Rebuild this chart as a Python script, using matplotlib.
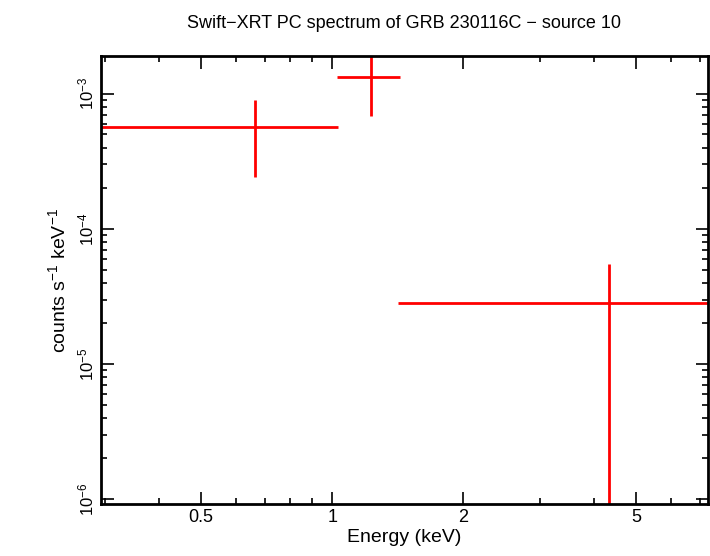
import matplotlib
matplotlib.use("Agg")
import matplotlib.pyplot as plt
from matplotlib.ticker import FixedLocator, FixedFormatter

plt.rcParams["font.family"] = "Liberation Sans"
plt.rcParams["mathtext.fontset"] = "custom"
plt.rcParams["mathtext.rm"] = "Liberation Sans"

# spectrum bins
energy = [0.665, 1.229, 4.33]
e_lo = [0.28, 1.027, 1.418]
e_hi = [1.032, 1.433, 8.0]
rate = [5.7e-4, 1.34e-3, 2.83e-5]
rate_lo = [2.43e-4, 6.87e-4, 1e-8]
rate_hi = [9.0e-4, 2.0e-3, 5.5e-5]

xerr = [[e - l for e, l in zip(energy, e_lo)], [h - e for e, h in zip(energy, e_hi)]]
yerr = [[r - l for r, l in zip(rate, rate_lo)], [h - r for r, h in zip(rate, rate_hi)]]

fig = plt.figure(figsize=(7.1, 5.56), dpi=100)
ax = fig.add_axes([0.142, 0.0935, 0.855, 0.8055])
ax.errorbar(energy, rate, xerr=xerr, yerr=yerr, fmt="none", ecolor="red", elinewidth=2)
ax.set_xscale("log")
ax.set_yscale("log")
ax.set_xlim(0.294, 7.3)
ax.set_ylim(9.2e-7, 1.9e-3)

ax.xaxis.set_major_locator(FixedLocator([0.5, 1, 2, 5]))
ax.xaxis.set_major_formatter(FixedFormatter(["0.5", "1", "2", "5"]))
ax.tick_params(which="both", direction="in", top=True, right=True, width=1.2)
ax.tick_params(axis="x", labelsize=13)
ax.tick_params(axis="y", labelsize=12)
ax.tick_params(which="major", length=9)
ax.tick_params(which="minor", length=4)
for lbl in ax.get_yticklabels():
    lbl.set_rotation(90)
    lbl.set_va("center")
for s in ax.spines.values():
    s.set_linewidth(2)

ax.set_xlabel("Energy (keV)", fontsize=14, labelpad=2)
ax.set_ylabel("counts s$^{-1}$ keV$^{-1}$", fontsize=14, labelpad=4)
ax.set_title("Swift\u2212XRT PC spectrum of GRB 230116C \u2212 source 10", fontsize=13, pad=20)

fig.savefig("out.png", dpi=100)
